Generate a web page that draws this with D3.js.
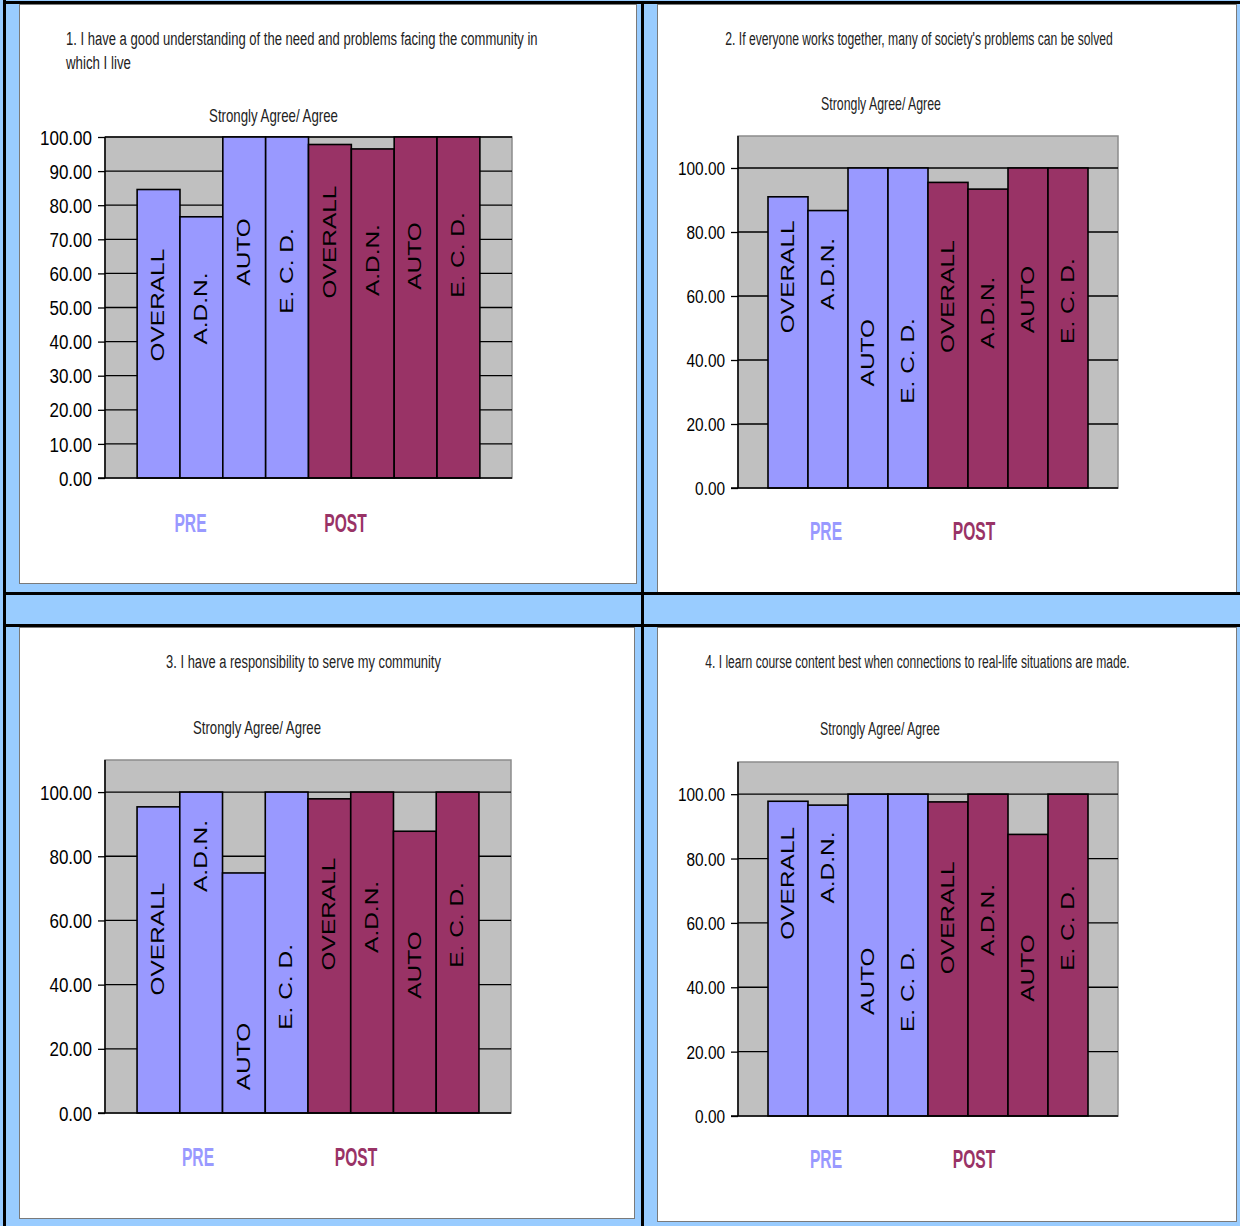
<!DOCTYPE html>
<html>
<head>
<meta charset="utf-8">
<script src="https://cdn.jsdelivr.net/npm/d3@7"></script>
<style>
    body { margin: 0; background: #99ccff; }
    svg { display: block; }
</style>
</head>
<body>
<div id="chart"></div>
<script>
// ---- data ----
let groups = ["PRE", "POST"]
let programs = ["OVERALL", "A.D.N.", "AUTO", "E. C. D."]
let subtitle = "Strongly Agree/ Agree"

let title1 = ["1. I have a good understanding of the need and problems facing the community in", "which I live"]
let title2 = ["2. If everyone works together, many of society's problems can be solved"]
let title3 = ["3. I have a responsibility to serve my community"]
let title4 = ["4. I learn course content best when connections to real-life situations are made."]

let pre1 = [84.6, 76.6, 100, 100]
let post1 = [97.8, 96.5, 100, 100]
let pre2 = [91.0, 86.7, 100, 100]
let post2 = [95.5, 93.4, 100, 100]
let pre3 = [95.4, 100, 74.8, 100]
let post3 = [97.9, 100, 87.8, 100]
let pre4 = [97.8, 96.6, 100, 100]
let post4 = [97.6, 100, 87.5, 100]

// where each bar's name sits, in axis units (PRE x4 then POST x4)
let labelAt1 = [50.7, 49.7, 66.3, 60.7, 69.2, 63.9, 65.1, 65.4]
let labelAt2 = [66.0, 66.9, 42.3, 39.7, 59.8, 54.8, 58.9, 58.4]
let labelAt3 = [54.2, 80.1, 17.6, 39.3, 62.0, 61.1, 46.1, 58.6]
let labelAt4 = [72.3, 77.2, 41.9, 39.4, 61.6, 60.9, 46.0, 58.4]

let ticks1 = [0, 10, 20, 30, 40, 50, 60, 70, 80, 90, 100]
let ticks2 = [0, 20, 40, 60, 80, 100]
let yMax1 = 100
let yMax2 = 110

let preColor = "#9999ff"
let postColor = "#993366"
let font = "'Liberation Sans', Arial, sans-serif"

// ---- page frame ----
let width = 1240
let height = 1226

let svg = d3.select("#chart")
    .append("svg")
    .attr("width", width)
    .attr("height", height)

svg.append("rect").attr("width", width).attr("height", height).attr("fill", "#99ccff")

// ---- panel layouts (pixels) ----
let charts = [
    {
        panel: [19, 4, 617, 579],
        plot: {left: 105, right: 512, top: 137, bottom: 478},
        title: title1, titleAnchor: "start", titleX: 66, titleY: [38, 62], titleW: [472, 65],
        subX: 273.5, subY: 116, subW: 129,
        pre: pre1, post: post1, labelAt: labelAt1, ticks: ticks1, yMax: yMax1, tickSize: 21,
        preX: 190.5, postX: 345.5, groupY: 524
    },
    {
        panel: [657, 4, 579, 588],
        plot: {left: 738, right: 1118, top: 136, bottom: 488},
        title: title2, titleAnchor: "middle", titleX: 919, titleY: [38], titleW: [388],
        subX: 881, subY: 104, subW: 120,
        pre: pre2, post: post2, labelAt: labelAt2, ticks: ticks2, yMax: yMax2, tickSize: 19,
        preX: 826, postX: 974, groupY: 532
    },
    {
        panel: [19, 627, 615, 591],
        plot: {left: 105, right: 511, top: 760, bottom: 1113},
        title: title3, titleAnchor: "middle", titleX: 303.5, titleY: [661], titleW: [275],
        subX: 257, subY: 728, subW: 128,
        pre: pre3, post: post3, labelAt: labelAt3, ticks: ticks2, yMax: yMax2, tickSize: 21,
        preX: 198, postX: 356, groupY: 1158
    },
    {
        panel: [657, 627, 579, 594],
        plot: {left: 738, right: 1118, top: 762, bottom: 1116},
        title: title4, titleAnchor: "middle", titleX: 917.5, titleY: [661], titleW: [425],
        subX: 880, subY: 729, subW: 120,
        pre: pre4, post: post4, labelAt: labelAt4, ticks: ticks2, yMax: yMax2, tickSize: 19,
        preX: 826, postX: 974, groupY: 1160
    }
]

// white chart panels
svg.selectAll(".panel")
    .data(charts)
    .enter()
    .append("rect")
    .attr("class", "panel")
    .attr("x", d => d.panel[0] + 0.5)
    .attr("y", d => d.panel[1] + 0.5)
    .attr("width", d => d.panel[2])
    .attr("height", d => d.panel[3])
    .attr("fill", "#ffffff")
    .attr("stroke", "#7a7a7a")
    .attr("stroke-width", 1)

// black table rules
let rules = svg.append("g").attr("stroke", "#000").attr("stroke-width", 3)
rules.append("line").attr("x1", 4.5).attr("x2", 4.5).attr("y1", 0).attr("y2", height)
rules.append("line").attr("x1", 3).attr("x2", width).attr("y1", 2.5).attr("y2", 2.5)
rules.append("line").attr("x1", 642.5).attr("x2", 642.5).attr("y1", 1).attr("y2", height)
rules.append("line").attr("x1", 3).attr("x2", width).attr("y1", 593.5).attr("y2", 593.5)
rules.append("line").attr("x1", 3).attr("x2", width).attr("y1", 625.5).attr("y2", 625.5)

// squeeze a text horizontally so it spans w pixels
function squeeze(g, str, x, y, w, size, anchor) {
    let t = g.append("text")
        .attr("dy", "0.36em")
        .attr("text-anchor", anchor)
        .style("font-family", font)
        .style("font-size", size + "px")
        .attr("fill", "#222")
        .text(str)
    let len = t.node().getComputedTextLength()
    t.attr("transform", "translate(" + x + "," + y + ") scale(" + (w / len) + ",1)")
    return t
}

function drawChart(c) {
    let g = svg.append("g")
    let p = c.plot

    let values = c.pre.concat(c.post)
    let names = programs.concat(programs)

    let x = d3.scaleBand()
        .domain(d3.range(values.length))
        .range([p.left, p.right])
        .paddingInner(0)
        .paddingOuter(0.75)

    let y = d3.scaleLinear()
        .domain([0, c.yMax])
        .range([p.bottom, p.top])

    // title + subtitle (condensed)
    c.title.forEach((line, i) => {
        squeeze(g, line, c.titleX, c.titleY[i], c.titleW[i], 19, c.titleAnchor)
    })
    squeeze(g, subtitle, c.subX, c.subY, c.subW, 18, "middle")

    // plot area
    g.append("rect")
        .attr("x", p.left)
        .attr("y", p.top)
        .attr("width", p.right - p.left)
        .attr("height", p.bottom - p.top)
        .attr("fill", "#c0c0c0")
        .attr("stroke", "#8c8c8c")
        .attr("stroke-width", 1.5)

    // gridlines
    g.append("g")
        .selectAll("line")
        .data(c.ticks.filter(t => t > 0))
        .enter()
        .append("line")
        .attr("x1", p.left)
        .attr("x2", p.right)
        .attr("y1", d => y(d))
        .attr("y2", d => y(d))
        .attr("stroke", "#000")
        .attr("stroke-width", 1.3)

    // y axis
    let yAxis = d3.axisLeft(y)
        .tickValues(c.ticks)
        .tickSize(7)
        .tickFormat(d3.format(".2f"))

    let ax = g.append("g")
        .attr("transform", "translate(" + p.left + ",0)")
        .call(yAxis)
    ax.select(".domain").remove()
    ax.selectAll(".tick line").attr("stroke", "#000").attr("stroke-width", 1.3)
    ax.selectAll(".tick text")
        .attr("x", null)
        .attr("dy", null)
        .attr("transform", "translate(-13,0) scale(0.81,1)")
        .attr("dominant-baseline", "central")
        .style("font-family", font)
        .style("font-size", c.tickSize + "px")
        .attr("fill", "#000")

    // bars
    g.append("g")
        .selectAll("rect")
        .data(values)
        .enter()
        .append("rect")
        .attr("x", (d, i) => x(i))
        .attr("y", d => y(d))
        .attr("width", x.bandwidth())
        .attr("height", d => y(0) - y(d))
        .attr("fill", (d, i) => i < programs.length ? preColor : postColor)
        .attr("stroke", "#000")
        .attr("stroke-width", 1.6)

    // bar names, rotated and stretched
    g.append("g")
        .selectAll("text")
        .data(names)
        .enter()
        .append("text")
        .attr("transform", (d, i) => "translate(" + (x(i) + x.bandwidth() / 2) + "," + y(c.labelAt[i]) + ") rotate(-90) scale(1.36,1)")
        .attr("text-anchor", "middle")
        .attr("dominant-baseline", "central")
        .style("font-family", font)
        .style("font-size", "18px")
        .attr("fill", "#000")
        .text(d => d)

    // axis lines
    g.append("line")
        .attr("x1", p.left).attr("x2", p.left)
        .attr("y1", p.top).attr("y2", p.bottom)
        .attr("stroke", "#000").attr("stroke-width", 1.5)
    g.append("line")
        .attr("x1", p.left - 7).attr("x2", p.right)
        .attr("y1", p.bottom).attr("y2", p.bottom)
        .attr("stroke", "#000").attr("stroke-width", 1.5)

    // PRE / POST
    let gx = [c.preX, c.postX]
    g.append("g")
        .selectAll("text")
        .data(groups)
        .enter()
        .append("text")
        .attr("transform", (d, i) => "translate(" + gx[i] + "," + c.groupY + ") scale(0.6,1)")
        .attr("text-anchor", "middle")
        .attr("dominant-baseline", "central")
        .style("font-family", font)
        .style("font-size", "26px")
        .style("font-weight", "bold")
        .attr("fill", (d, i) => i === 0 ? preColor : postColor)
        .text(d => d)
}

charts.forEach(drawChart)
</script>
</body>
</html>
